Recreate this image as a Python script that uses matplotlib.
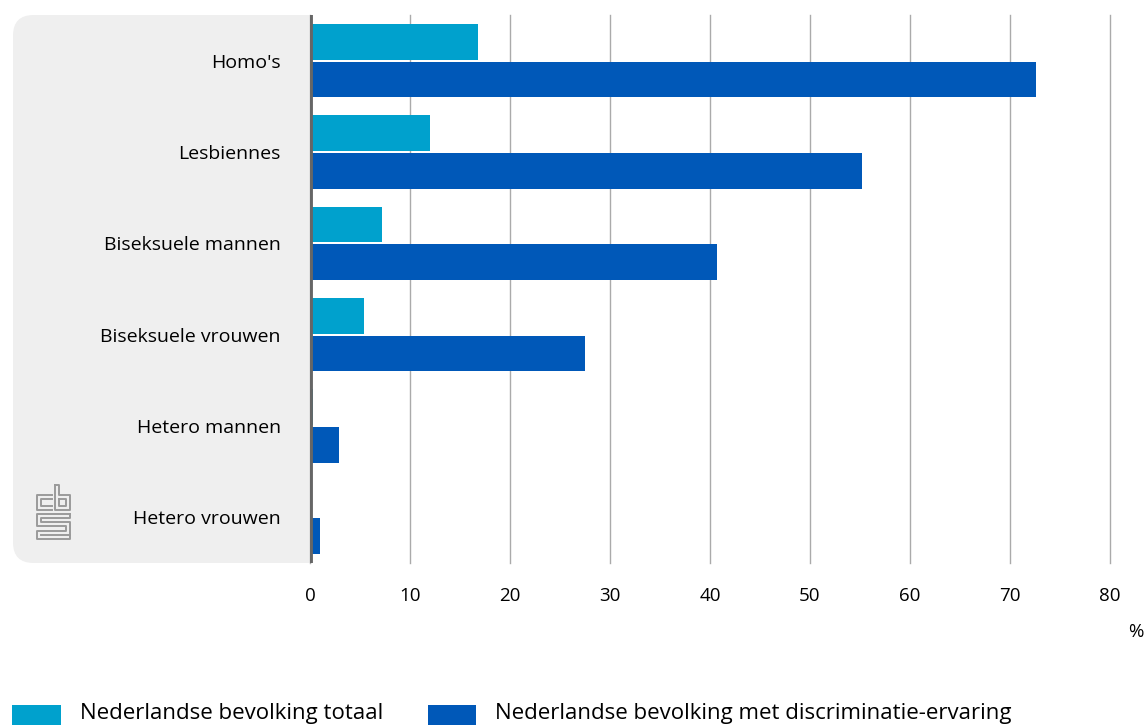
import matplotlib.pyplot as plt
import numpy as np
from matplotlib.patches import FancyBboxPatch, Rectangle
from matplotlib.lines import Line2D

# Values (percentages)
categories = ["Homo's", "Lesbiennes", "Biseksuele mannen", "Biseksuele vrouwen",
              "Hetero mannen", "Hetero vrouwen"]
totaal = [16.8, 12.0, 7.2, 5.4, 0.3, 0.1]
ervaring = [72.6, 55.2, 40.7, 27.5, 2.9, 1.0]
xticks = [0, 10, 20, 30, 40, 50, 60, 70, 80]
legend_labels = ["Nederlandse bevolking totaal", "Nederlandse bevolking met discriminatie-ervaring"]

light = '#00A1CD'
dark = '#0058B8'
panel = '#EFEFEF'

plt.rcParams['font.family'] = ['Open Sans', 'DejaVu Sans']

W, H = 1145, 725
fig = plt.figure(figsize=(W / 100, H / 100), dpi=100)

def fx(px):
    return px / W

def fy(py):
    return 1 - py / H

ax = fig.add_axes([fx(310), fy(563), fx(800), 548 / H])

# grey rounded panel behind the category labels
fig.patches.append(FancyBboxPatch((fx(13), fy(563)), fx(330), 548 / H,
                                  boxstyle='round,pad=0,rounding_size=0.018',
                                  transform=fig.transFigure, facecolor=panel,
                                  edgecolor='none', zorder=-1,
                                  mutation_aspect=W / H))

y = np.arange(len(categories))
h = 0.39
ax.barh(y - 0.205, totaal, height=h, color=light, zorder=3)
ax.barh(y + 0.205, ervaring, height=h, color=dark, zorder=3)

ax.set_xlim(0, 80)
ax.set_ylim(len(categories) - 0.5, -0.5)
ax.set_xticks(xticks)
ax.set_xticklabels([str(v) for v in xticks], fontsize=13.5, color='#000000')
ax.set_yticks(y)
ax.set_yticklabels(categories, fontsize=14, color='#000000')
ax.tick_params(axis='x', length=0, pad=17)
ax.tick_params(axis='y', length=0, pad=21)
for s in ax.spines.values():
    s.set_visible(False)
ax.xaxis.grid(True, color='#AAAAAA', linewidth=1)
for gl in ax.get_xgridlines():
    gl.set_clip_on(False)
ax.set_axisbelow(True)
ax.axvline(0, color='#666666', linewidth=3.5, zorder=4)

fig.text(fx(1136), fy(632), '%', fontsize=13.5, ha='center', va='center', color='#000000')

# cbs logo (simple line drawing)
lc = '#9A9A9A'
segs = [
    [(52, 495), (37, 495), (37, 510), (52, 510)], [(52, 499), (41, 499), (41, 506), (52, 506)],
    [(55, 485), (55, 510), (70, 510), (70, 495), (59, 495), (59, 485), (55, 485)],
    [(59, 499), (66, 499), (66, 506), (59, 506), (59, 499)],
    [(70, 514), (37, 514), (37, 526), (66, 526), (66, 531), (37, 531), (37, 539),
     (70, 539), (70, 522), (41, 522), (41, 518), (70, 518), (70, 514)],
    [(41, 535), (70, 535)],
]
for sg in segs:
    xs = [fx(p[0]) for p in sg]
    ys = [fy(p[1]) for p in sg]
    fig.lines.append(Line2D(xs, ys, transform=fig.transFigure, color=lc, linewidth=1.4))

# legend
for (x0, x1, tx), lab, col in zip([(12, 61, 80), (428, 476, 495)], legend_labels, [light, dark]):
    fig.patches.append(Rectangle((fx(x0), fy(725)), fx(x1 - x0), 20 / H,
                                 transform=fig.transFigure, facecolor=col, edgecolor='none'))
    fig.text(fx(tx), fy(713), lab, fontsize=16, fontstretch='semi-condensed',
             ha='left', va='center', color='#000000')

plt.savefig('out.png', dpi=100)
plt.close()
